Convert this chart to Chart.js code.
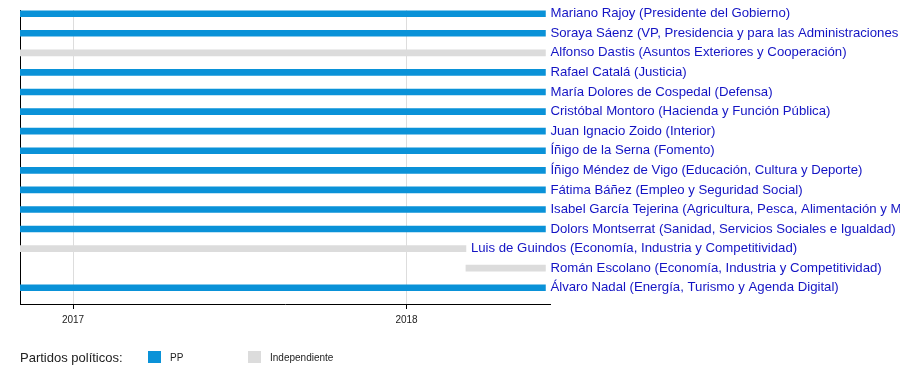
<!DOCTYPE html>
<html><head><meta charset="utf-8">
<script src="https://cdn.jsdelivr.net/npm/chart.js@4.4.0/dist/chart.umd.min.js"></script>
<style>html,body{margin:0;padding:0;background:#fff;} #wrap{width:900px;height:384px;position:relative}</style>
</head><body><div id="wrap"><canvas id="c" width="900" height="384"></canvas></div>
<script>
const ministers = [
  "Mariano Rajoy (Presidente del Gobierno)",
  "Soraya Sáenz (VP, Presidencia y para las Administraciones Territoriales)",
  "Alfonso Dastis (Asuntos Exteriores y Cooperación)",
  "Rafael Catalá (Justicia)",
  "María Dolores de Cospedal (Defensa)",
  "Cristóbal Montoro (Hacienda y Función Pública)",
  "Juan Ignacio Zoido (Interior)",
  "Íñigo de la Serna (Fomento)",
  "Íñigo Méndez de Vigo (Educación, Cultura y Deporte)",
  "Fátima Báñez (Empleo y Seguridad Social)",
  "Isabel García Tejerina (Agricultura, Pesca, Alimentación y Medio Ambiente)",
  "Dolors Montserrat (Sanidad, Servicios Sociales e Igualdad)",
  "Luis de Guindos (Economía, Industria y Competitividad)",
  "Román Escolano (Economía, Industria y Competitividad)",
  "Álvaro Nadal (Energía, Turismo y Agenda Digital)"
];
const parties = ["PP","PP","Independiente","PP","PP","PP","PP","PP","PP","PP","PP","PP","Independiente","Independiente","PP"];
const startDates = ["2016-11-04","2016-11-04","2016-11-04","2016-11-04","2016-11-04","2016-11-04","2016-11-04","2016-11-04","2016-11-04","2016-11-04","2016-11-04","2016-11-04","2016-11-04","2018-03-07","2016-11-04"];
const endDates = ["2018-06-02","2018-06-02","2018-06-02","2018-06-02","2018-06-02","2018-06-02","2018-06-02","2018-06-02","2018-06-02","2018-06-02","2018-06-02","2018-06-02","2018-03-07","2018-06-02","2018-06-02"];
const partyNames = ["PP","Independiente"];
const partyColors = ["#0a92d8","#dcdcdc"];
const axisStart = "2016-11-04";
const axisEnd = "2018-06-07";
const tickYears = [2017, 2018];
const legendTitle = "Partidos políticos:";

const ts = s => Date.parse(s + "T00:00:00Z");
const FONT = '"Liberation Sans", Arial, Helvetica, sans-serif';

const datasets = partyNames.map((p, pi) => ({
  label: p,
  data: ministers.map((m, i) => parties[i] === p ? {y: i, x: [ts(startDates[i]), ts(endDates[i])]} : null).filter(Boolean),
  backgroundColor: partyColors[pi],
  barThickness: 6,
  grouped: false,
  borderWidth: 0
}));

const labelPlugin = {
  id: 'labels',
  afterDatasetsDraw(chart) {
    const {ctx, scales: {x, y}} = chart;
    ctx.save();
    ctx.font = '13.2px ' + FONT;
    ctx.fillStyle = '#1414c4';
    ctx.textBaseline = 'middle';
    ctx.textAlign = 'left';
    ministers.forEach((m, i) => {
      ctx.fillText(m, x.getPixelForValue(ts(endDates[i])) + 5, y.getPixelForValue(i));
    });
    // legend
    ctx.fillStyle = '#222';
    ctx.font = '13px ' + FONT;
    ctx.fillText(legendTitle, 20, 358);
    const lx = [148, 248];
    partyNames.forEach((p, pi) => {
      ctx.fillStyle = partyColors[pi];
      ctx.fillRect(lx[pi], 351, 13, 12);
      ctx.fillStyle = '#222';
      ctx.font = '10px ' + FONT;
      ctx.fillText(p, lx[pi] + 22, 358.5);
    });
    ctx.restore();
  }
};

new Chart(document.getElementById('c'), {
  type: 'bar',
  data: { datasets },
  options: {
    indexAxis: 'y',
    responsive: false,
    devicePixelRatio: 1,
    animation: false,
    layout: { padding: { left: 20, right: 350, top: 10, bottom: 0 } },
    plugins: { legend: { display: false }, tooltip: { enabled: false } },
    scales: {
      x: {
        type: 'linear',
        min: ts(axisStart), max: ts(axisEnd),
        afterBuildTicks: s => { s.ticks = tickYears.map(yr => ({ value: Date.UTC(yr, 0, 1) })); },
        ticks: {
          callback: v => String(new Date(v).getUTCFullYear()),
          font: { size: 10, family: FONT }, color: '#222', padding: 5,
          maxRotation: 0, autoSkip: false
        },
        grid: { color: '#dddddd', tickColor: '#000', tickLength: 5, drawTicks: true },
        border: { color: '#000', width: 1 },
        afterFit: s => { s.height = 80; }
      },
      y: {
        type: 'linear', reverse: true, min: -0.19, max: 14.83,
        offset: false,
        ticks: { display: false },
        grid: { display: false, offset: false },
        border: { color: '#000', width: 1 },
        afterFit: s => { s.width = 0; }
      }
    }
  },
  plugins: [labelPlugin]
});
</script>
</body></html>
